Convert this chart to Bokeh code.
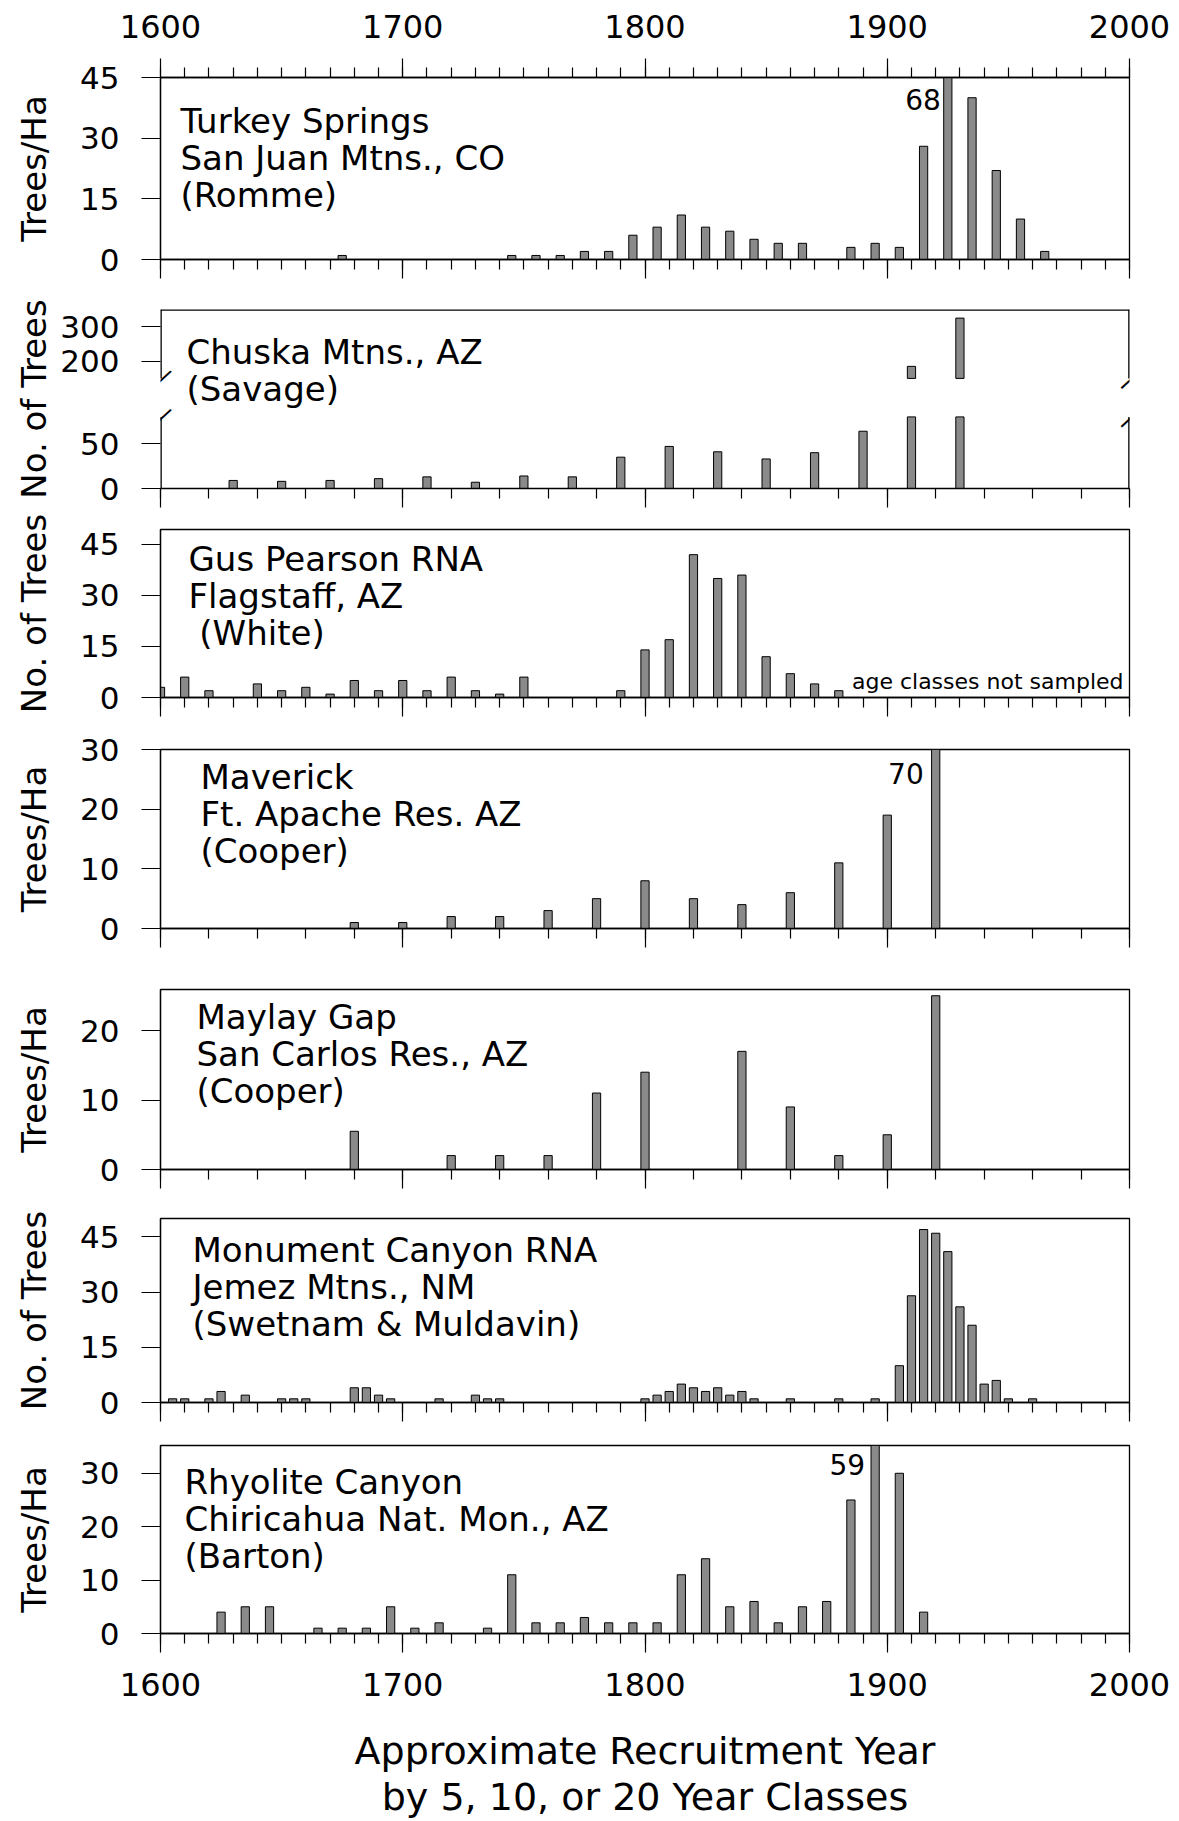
import numpy as np
from bokeh.plotting import figure
from bokeh.layouts import column
from bokeh.models import Range1d, LinearAxis, FixedTicker, Label, CustomJSTickFormatter
from bokeh.embed import file_html
from bokeh.resources import INLINE

# ------------------------------------------------------------------ data
# Turkey Springs, San Juan Mtns., CO (Romme) - trees/ha, 10-year classes
turkey_years = [1675, 1745, 1755, 1765, 1775, 1785, 1795, 1805, 1815, 1825, 1835, 1845,
                1855, 1865, 1885, 1895, 1905, 1915, 1925, 1935, 1945, 1955, 1965]
turkey_trees = [1, 1, 1, 1, 2, 2, 6, 8, 11, 8, 7, 5,
                4, 4, 3, 4, 3, 28, 68, 40, 22, 10, 2]

# Chuska Mtns., AZ (Savage) - number of trees, 20-year classes
chuska_years = [1630, 1650, 1670, 1690, 1710, 1730, 1750, 1770, 1790, 1810, 1830, 1850,
                1870, 1890, 1910, 1930]
chuska_trees = [9, 8, 9, 11, 13, 7, 14, 13, 35, 47, 41, 33, 40, 64, 185, 325]

# Gus Pearson RNA, Flagstaff, AZ (White) - number of trees, 10-year classes
gus_years = [1600, 1610, 1620, 1640, 1650, 1660, 1670, 1680, 1690, 1700, 1710, 1720, 1730,
             1740, 1750, 1790, 1800, 1810, 1820, 1830, 1840, 1850, 1860, 1870, 1880]
gus_trees = [3, 6, 2, 4, 2, 3, 1, 5, 2, 5, 2, 6, 2,
             1, 6, 2, 14, 17, 42, 35, 36, 12, 7, 4, 2]

# Maverick, Ft. Apache Res. AZ (Cooper) - trees/ha, 20-year classes
maverick_years = [1680, 1700, 1720, 1740, 1760, 1780, 1800, 1820, 1840, 1860, 1880, 1900, 1920]
maverick_trees = [1, 1, 2, 2, 3, 5, 8, 5, 4, 6, 11, 19, 70]

# Maylay Gap, San Carlos Res., AZ (Cooper) - trees/ha, 20-year classes
maylay_years = [1680, 1720, 1740, 1760, 1780, 1800, 1840, 1860, 1880, 1900, 1920]
maylay_trees = [5.5, 2, 2, 2, 11, 14, 17, 9, 2, 5, 25]

# Monument Canyon RNA, Jemez Mtns., NM (Swetnam & Muldavin) - number of trees, 5-year classes
monument_years = [1605, 1610, 1620, 1625, 1635, 1650, 1655, 1660, 1680, 1685, 1690, 1695,
                  1715, 1730, 1735, 1740, 1800, 1805, 1810, 1815, 1820, 1825, 1830, 1835,
                  1840, 1845, 1860, 1880, 1895, 1905, 1910, 1915, 1920, 1925, 1930, 1935,
                  1940, 1945, 1950, 1960]
monument_trees = [1, 1, 1, 3, 2, 1, 1, 1, 4, 4, 2, 1,
                  1, 2, 1, 1, 1, 2, 3, 5, 4, 3, 4, 2,
                  3, 1, 1, 1, 1, 10, 29, 47, 46, 41, 26, 21,
                  5, 6, 1, 1]

# Rhyolite Canyon, Chiricahua Nat. Mon., AZ (Barton) - trees/ha, 10-year classes
rhyolite_years = [1625, 1635, 1645, 1665, 1675, 1685, 1695, 1705, 1715, 1735, 1745, 1755,
                  1765, 1775, 1785, 1795, 1805, 1815, 1825, 1835, 1845, 1855, 1865, 1875,
                  1885, 1895, 1905, 1915]
rhyolite_trees = [4, 5, 5, 1, 1, 1, 5, 1, 2, 1, 11, 2,
                  2, 3, 2, 2, 2, 11, 14, 5, 6, 2, 5, 6,
                  25, 59, 30, 4]

year_ticks = [1600, 1700, 1800, 1900, 2000]

# ------------------------------------------------------------------ style
FONT = "DejaVu Sans"
INK = "black"
BAR_FILL = "#8a8a8a"
BAR_WIDTH = 3.4          # in years
X0, X1 = 1600, 2000
PAGE_W = 1179
LEFT, RIGHT = 160, 50
FRAME_W = PAGE_W - LEFT - RIGHT

TICK_FONT = "31px"
YEAR_FONT = "32px"
YLABEL_FONT = "34px"
TITLE_FONT = "34px"
NOTE_FONT = "28px"
DIGIT_W = 0.636 * 31     # width of one tick-label digit


def base_figure(frame_h, top, bottom, y_range):
    p = figure(frame_width=FRAME_W, frame_height=frame_h,
               x_range=Range1d(X0, X1), y_range=y_range,
               min_border_left=LEFT, min_border_right=RIGHT,
               min_border_top=top, min_border_bottom=bottom,
               output_backend="svg", toolbar_location=None, title=None)
    p.grid.visible = False
    p.background_fill_color = "white"
    p.border_fill_color = "white"
    p.outline_line_color = INK
    p.outline_line_width = 1.3
    p.outline_line_alpha = 1.0
    return p


def style_x(axis, step, labels):
    axis.ticker = FixedTicker(ticks=year_ticks, minor_ticks=list(range(X0, X1 + 1, step)))
    axis.major_tick_out = 19
    axis.major_tick_in = 0
    axis.minor_tick_out = 10
    axis.minor_tick_in = 0
    axis.axis_line_color = INK
    axis.axis_line_width = 1.3
    axis.major_tick_line_color = INK
    axis.minor_tick_line_color = INK
    axis.major_tick_line_width = 1.2
    axis.minor_tick_line_width = 1.2
    if labels:
        axis.formatter = CustomJSTickFormatter(code="return tick.toFixed(0)")
        axis.major_label_text_font = FONT
        axis.major_label_text_font_size = YEAR_FONT
        axis.major_label_text_color = INK
    else:
        axis.formatter = CustomJSTickFormatter(code="return ''")
        axis.major_label_text_font_size = "1px"
        axis.major_label_standoff = 0


def style_y(axis, ticks, label, n_digits):
    axis.ticker = FixedTicker(ticks=ticks)
    axis.major_tick_out = 19
    axis.major_tick_in = 0
    axis.minor_tick_out = 0
    axis.minor_tick_in = 0
    axis.axis_line_color = INK
    axis.axis_line_width = 1.3
    axis.major_tick_line_color = INK
    axis.major_tick_line_width = 1.2
    axis.major_label_standoff = 22
    axis.major_label_text_font = FONT
    axis.major_label_text_font_size = TICK_FONT
    axis.major_label_text_color = INK
    axis.axis_label = label
    axis.axis_label_text_font = FONT
    axis.axis_label_text_font_size = YLABEL_FONT
    axis.axis_label_text_font_style = "normal"
    axis.axis_label_text_color = INK
    axis.axis_label_standoff = int(round(62 - n_digits * DIGIT_W))


def site_title(text, y, dx, dy, **kw):
    return Label(x=X0, y=y, x_offset=dx, y_offset=-dy, text=text,
                 text_font=FONT, text_font_size=TITLE_FONT, text_color=INK,
                 text_align="left", text_baseline="top", text_line_height=0.93, **kw)


def bar_panel(years, trees, ymax, yticks, ylabel, title, step, frame_h, top, bottom,
              title_dx, title_dy, note_dx=-8, note_dy=12):
    p = base_figure(frame_h, top, bottom, Range1d(0, ymax))
    style_x(p.xaxis[0], step, False)
    style_y(p.yaxis[0], yticks, ylabel, len(str(max(yticks))))
    p.vbar(x=years, top=trees, bottom=0, width=BAR_WIDTH,
           fill_color=BAR_FILL, line_color=INK, line_width=1)
    p.add_layout(site_title(title, ymax, title_dx, title_dy))
    # bars running off the top get their value written beside them
    for yr, n in zip(years, trees):
        if n > ymax:
            p.add_layout(Label(x=yr, y=ymax, x_offset=note_dx, y_offset=-note_dy, text=str(n),
                               text_font=FONT, text_font_size=NOTE_FONT, text_color=INK,
                               text_align="right", text_baseline="top"))
    return p


# ------------------------------------------------------------------ panel 1
p1 = bar_panel(turkey_years, turkey_trees, 45, [0, 15, 30, 45], "Trees/Ha",
               "Turkey Springs\nSan Juan Mtns., CO\n(Romme)", 10, 182, 77, 25, 20, 23, -7, 11)
top_axis = LinearAxis()
style_x(top_axis, 10, True)
top_axis.major_label_standoff = 21
p1.add_layout(top_axis, "above")

# ------------------------------------------------------------------ panel 2 (broken scale)
LOW_MAX = 80        # top of the lower segment
HIGH_MIN = 150      # bottom of the upper segment
HIGH_MAX = 350      # top of the upper segment
LOW_SHARE = 0.40    # lower segment's share of the panel height
HIGH_FROM = 0.615   # height fraction where the upper segment begins
low_end = LOW_MAX / LOW_SHARE
hi_span = (HIGH_MAX - HIGH_MIN) / (1 - HIGH_FROM)
hi_start = HIGH_MIN - HIGH_FROM * hi_span


def lower_units(v):
    return low_end * (v - hi_start) / (HIGH_MAX - hi_start)


p2 = base_figure(179, 25, 23, Range1d(0, low_end))
p2.outline_line_color = None
p2.extra_y_ranges = {"upper": Range1d(hi_start, HIGH_MAX)}
style_x(p2.xaxis[0], 20, False)
style_y(p2.yaxis[0], [0, 50, lower_units(200), lower_units(300)], "No. of Trees", 3)
p2.yaxis[0].axis_line_color = None
p2.yaxis[0].formatter = CustomJSTickFormatter(
    args=dict(lo_max=LOW_MAX, low_end=low_end, hi_start=hi_start, hi_max=HIGH_MAX),
    code="""
    if (tick <= lo_max + 1e-6) { return tick.toFixed(0) }
    return Math.round(hi_start + tick / low_end * (hi_max - hi_start)).toFixed(0)
    """)

chuska = np.array(chuska_trees, dtype=float)
cyears = np.array(chuska_years)
p2.vbar(x=cyears, top=np.minimum(chuska, LOW_MAX), bottom=0, width=BAR_WIDTH,
        fill_color=BAR_FILL, line_color=INK, line_width=1)
tall = chuska > HIGH_MIN
p2.vbar(x=cyears[tall], top=chuska[tall], bottom=HIGH_MIN, width=BAR_WIDTH,
        fill_color=BAR_FILL, line_color=INK, line_width=1, y_range_name="upper")

# frame edges, interrupted at the break
p2.segment(x0=[X0, X1], y0=[0, 0], x1=[X0, X1], y1=[LOW_MAX, LOW_MAX],
           line_color=INK, line_width=2.6)
p2.segment(x0=[X0, X1, X0], y0=[HIGH_MIN, HIGH_MIN, HIGH_MAX],
           x1=[X0, X1, X1], y1=[HIGH_MAX, HIGH_MAX, HIGH_MAX],
           line_color=INK, line_width=2.6, y_range_name="upper")
for xb in (X0, X1):
    p2.add_layout(Label(x=xb, y=LOW_MAX, text="\u2014", angle=0.74,
                        text_font=FONT, text_font_size="28px", text_color=INK,
                        text_align="center", text_baseline="middle"))
    p2.add_layout(Label(x=xb, y=HIGH_MIN, y_range_name="upper", text="\u2014", angle=0.74,
                        text_font=FONT, text_font_size="28px", text_color=INK,
                        text_align="center", text_baseline="middle"))
p2.add_layout(site_title("Chuska Mtns., AZ\n(Savage)", HIGH_MAX, 26, 22, y_range_name="upper"))

# ------------------------------------------------------------------ panels 3-7
p3 = bar_panel(gus_years, gus_trees, 49.4, [0, 15, 30, 45], "No. of Trees",
               "Gus Pearson RNA\nFlagstaff, AZ\n\u00a0(White)", 10, 168, 18, 26, 28, 9)
p3.add_layout(Label(x=X1, y=0, x_offset=-6, y_offset=16, text="age classes not sampled",
                    text_font=FONT, text_font_size="22px", text_color=INK,
                    text_align="right", text_baseline="alphabetic"))

p4 = bar_panel(maverick_years, maverick_trees, 30, [0, 10, 20, 30], "Trees/Ha",
               "Maverick\nFt. Apache Res. AZ\n(Cooper)", 20, 179, 26, 30, 40, 7, -12, 13)

p5 = bar_panel(maylay_years, maylay_trees, 25.9, [0, 10, 20], "Trees/Ha",
               "Maylay Gap\nSan Carlos Res., AZ\n(Cooper)", 20, 180, 31, 24, 36, 7)

p6 = bar_panel(monument_years, monument_trees, 50, [0, 15, 30, 45], "No. of Trees",
               "Monument Canyon RNA\nJemez Mtns., NM\n(Swetnam & Muldavin)", 10, 184, 25, 23, 32, 11)

p7 = bar_panel(rhyolite_years, rhyolite_trees, 35.2, [0, 10, 20, 30], "Trees/Ha",
               "Rhyolite Canyon\nChiricahua Nat. Mon., AZ\n(Barton)", 10, 188, 20, 188, 24, 16, -10, 8)
xa = p7.xaxis[0]
style_x(xa, 10, True)
xa.major_label_standoff = 20
xa.axis_label = "Approximate Recruitment Year\nby 5, 10, or 20 Year Classes"
xa.axis_label_text_font = FONT
xa.axis_label_text_font_size = "38px"
xa.axis_label_text_font_style = "normal"
xa.axis_label_text_color = INK
xa.axis_label_text_line_height = 1.05
xa.axis_label_standoff = 30

layout = column(p1, p2, p3, p4, p5, p6, p7, spacing=0)

open("out.html", "w").write(file_html(layout, INLINE))
